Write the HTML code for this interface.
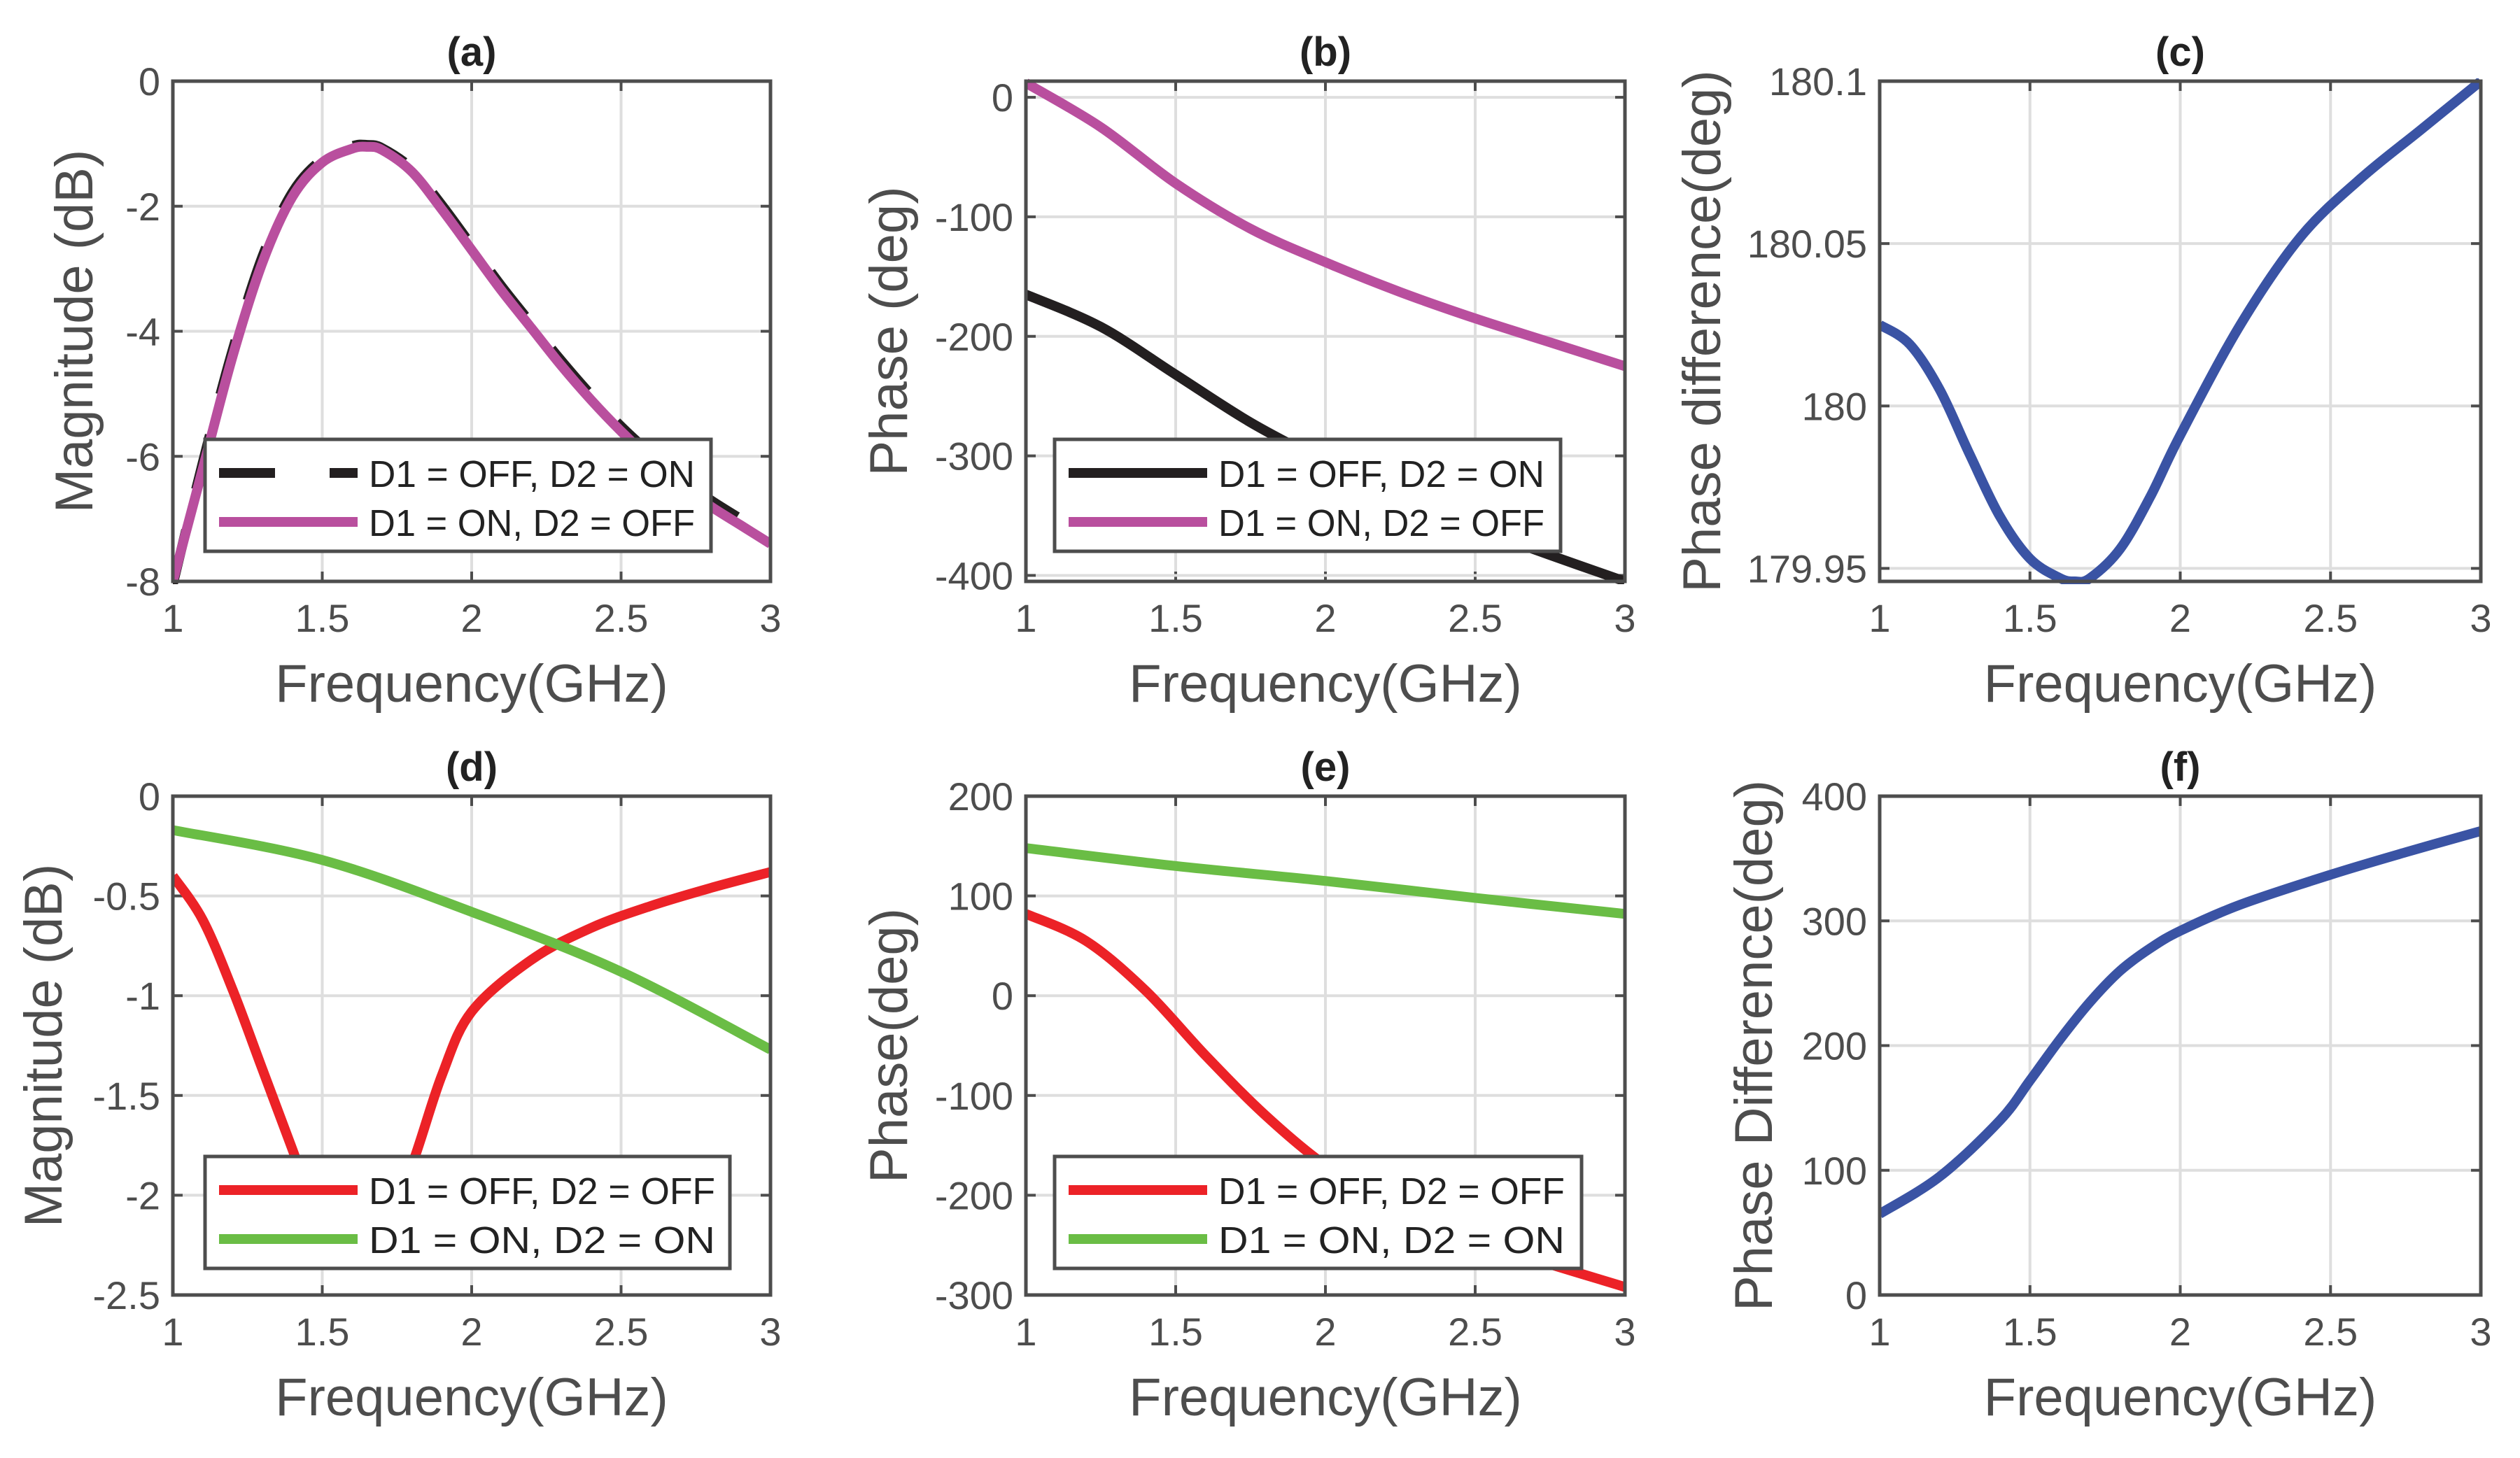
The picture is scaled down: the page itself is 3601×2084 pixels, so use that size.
<!DOCTYPE html>
<html><head><meta charset="utf-8"><style>
html,body{margin:0;padding:0;background:#fff}
svg{display:block}
text{font-family:"Liberation Sans",Arial,sans-serif;fill:#4d4d4d}
</style></head><body>
<svg id="fig" width="3601" height="2084" viewBox="0 0 3601 2084" xmlns="http://www.w3.org/2000/svg"></svg>
<script>
const xTicks=[1,1.5,2,2.5,3];
const xTickLabels=["1","1.5","2","2.5","3"];
// (a)
const aX=[1,1.1,1.2,1.3,1.4,1.5,1.6,1.65,1.7,1.8,1.9,2,2.1,2.2,2.3,2.4,2.5,2.6,2.7,2.8,2.9,3];
const aOnOff=[-8,-6.2,-4.4,-2.9,-1.85,-1.3,-1.08,-1.05,-1.1,-1.45,-2.05,-2.7,-3.35,-3.95,-4.55,-5.1,-5.6,-6.05,-6.45,-6.8,-7.1,-7.4];
const aOffOn=[-8.05,-6.1,-4.3,-2.8,-1.78,-1.25,-1.04,-1.02,-1.07,-1.4,-1.98,-2.63,-3.28,-3.88,-4.47,-5.02,-5.52,-5.96,-6.36,-6.7,-7.0,-7.3];
const aTicks=[0,-2,-4,-6,-8];
// (b)
const bX=[1,1.25,1.5,1.75,2,2.25,2.5,2.75,3];
const bOffOn=[-165,-192,-232,-272,-305,-334,-360,-383,-405];
const bOnOff=[12,-25,-72,-110,-138,-163,-185,-205,-225];
const bTicks=[0,-100,-200,-300,-400];
// (c)
const cX=[1,1.1,1.2,1.3,1.4,1.5,1.6,1.65,1.7,1.8,1.9,2,2.2,2.4,2.6,2.8,3];
const cDiff=[180.025,180.019,180.005,179.985,179.966,179.953,179.947,179.946,179.947,179.956,179.972,179.991,180.025,180.052,180.07,180.085,180.1];
const cTicks=[180.1,180.05,180,179.95];
const cTickLabels=["180.1","180.05","180","179.95"];
// (d)
const dX=[1,1.1,1.2,1.3,1.4,1.45,1.55,1.6,1.7,1.8,1.9,2,2.2,2.4,2.6,2.8,3];
const dOffOff=[-0.4,-0.62,-0.97,-1.37,-1.77,-1.97,-2.25,-2.3,-2.2,-1.85,-1.4,-1.08,-0.82,-0.66,-0.55,-0.46,-0.38];
const dX2=[1,1.5,2,2.5,3];
const dOnOn=[-0.17,-0.32,-0.58,-0.88,-1.27];
const dTicks=[0,-0.5,-1,-1.5,-2,-2.5];
// (e)
const eX=[1,1.2,1.4,1.6,1.8,2,2.2,2.5,3];
const eOffOff=[82,55,5,-60,-120,-170,-205,-245,-292];
const eX2=[1,1.5,2,2.5,3];
const eOnOn=[148,130,115,98,82];
const eTicks=[200,100,0,-100,-200,-300];
// (f)
const fX=[1,1.2,1.4,1.5,1.6,1.7,1.8,1.9,2,2.2,2.5,2.75,3];
const fDiff=[65,95,140,172,205,235,260,278,292,313,337,355,372];
const fTicks=[0,100,200,300,400];

const NS="http://www.w3.org/2000/svg";
const svg=document.getElementById('fig');
function el(tag,attrs,parent){const e=document.createElementNS(NS,tag);for(const k in attrs)e.setAttribute(k,attrs[k]);(parent||svg).appendChild(e);return e;}
function txt(s,attrs,parent){const t=el('text',attrs,parent);t.textContent=s;return t;}
function smooth(pts){let d=`M${pts[0][0]},${pts[0][1]}`;for(let i=0;i<pts.length-1;i++){const p0=pts[Math.max(0,i-1)],p1=pts[i],p2=pts[i+1],p3=pts[Math.min(pts.length-1,i+2)];const c1=[p1[0]+(p2[0]-p0[0])/6,p1[1]+(p2[1]-p0[1])/6],c2=[p2[0]-(p3[0]-p1[0])/6,p2[1]-(p3[1]-p1[1])/6];d+=`C${c1[0]},${c1[1]} ${c2[0]},${c2[1]} ${p2[0]},${p2[1]}`;}return d;}

function panel(o){
  const g=el('g',{});  
  const {x0,x1,y0,y1,ymin,ymax}=o;
  const sx=v=>x0+(v-1)/2*(x1-x0), sy=v=>y1-(v-ymin)/(ymax-ymin)*(y1-y0);
  const clipId='clip'+o.id;
  const cp=el('clipPath',{id:clipId},g); el('rect',{x:x0,y:y0-4,width:x1-x0,height:y1-y0+8},cp);
  xTicks.forEach((t,i)=>{const X=sx(t);
    if(i>0&&i<xTicks.length-1){const l=el('line',{x1:X,x2:X,y1:y0,y2:y1,stroke:'#dedede','stroke-width':4},g);}
    el('line',{x1:X,x2:X,y1:y1,y2:y1-14,stroke:'#4d4d4d','stroke-width':4},g);el('line',{x1:X,x2:X,y1:y0,y2:y0+14,stroke:'#4d4d4d','stroke-width':4},g);
    const tl=txt(xTickLabels[i],{x:X,y:y1+72,'font-size':56,'text-anchor':'middle'},g);});
  o.yt.forEach((t,i)=>{const Y=sy(t);
    if(Y>y0+3&&Y<y1-3){const l=el('line',{x1:x0,x2:x1,y1:Y,y2:Y,stroke:'#dedede','stroke-width':4},g);}
    el('line',{x1:x0,x2:x0+14,y1:Y,y2:Y,stroke:'#4d4d4d','stroke-width':4},g);el('line',{x1:x1,x2:x1-14,y1:Y,y2:Y,stroke:'#4d4d4d','stroke-width':4},g);
    const tl=txt(o.ytl?o.ytl[i]:String(t),{x:x0-18,y:Y+20,'font-size':56,'text-anchor':'end'},g);});
  const cg=el('g',{'clip-path':`url(#${clipId})`},g);
  o.series.forEach(s=>{const pts=s.x.map((v,i)=>[sx(v),sy(s.y[i])]);
    const p=el('path',{d:smooth(pts),fill:'none',stroke:s.c,'stroke-width':14,'stroke-linejoin':'round'},cg);
    if(s.dash)p.setAttribute('stroke-dasharray',s.dash);
    });
  const b=el('rect',{x:x0,y:y0,width:x1-x0,height:y1-y0,fill:'none',stroke:'#4d4d4d','stroke-width':5},g);
  const ti=txt(o.title,{x:(x0+x1)/2,y:y0-22,'font-size':58,'font-weight':'bold','text-anchor':'middle',style:'fill:#222'},g);
  const xl=txt('Frequency(GHz)',{x:(x0+x1)/2,y:y1+172,'font-size':76,'text-anchor':'middle'},g);
  const yl=txt(o.ylabel,{x:0,y:0,'font-size':76,'text-anchor':'middle',transform:`translate(${o.ylx},${(y0+y1)/2}) rotate(-90)`},g);
  if(o.leg){const L=o.leg;const lg=el('g',{},g);
    el('rect',{x:L.x,y:L.y,width:L.w,height:160,fill:'#fff',stroke:'#4d4d4d','stroke-width':5},lg);
    L.items.forEach((it,i)=>{const Y=L.y+48+i*70;
      const ln=el('line',{x1:L.x+20,x2:L.x+218,y1:Y,y2:Y,stroke:it.c,'stroke-width':14},lg);if(it.dash)ln.setAttribute('stroke-dasharray','80 78');
      
      const t=txt(it.t,{x:L.x+234,y:Y+20,'font-size':54,textLength:L.tl,lengthAdjust:'spacingAndGlyphs',style:'fill:#222'},lg);});}
}
const C1=[247,1101],C2=[1466,2322],C3=[2686,3545],R1=[116,831],R2=[1138,1851];
const BLK='#231f20',PNK='#b94f9e',BLU='#3a53a4',RED='#ec2227',GRN='#6abd45';
panel({id:'a',x0:C1[0],x1:C1[1],y0:R1[0],y1:R1[1],ymin:-8,ymax:0,yt:aTicks,title:'(a)',ylabel:'Magnitude (dB)',ylx:132,
  series:[{x:aX,y:aOffOn,c:BLK,dash:'80 60',name:'line-d1off-d2on'},{x:aX,y:aOnOff,c:PNK,name:'line-d1on-d2off'}],
  leg:{x:293,y:628,w:723,tl:466,items:[{t:'D1 = OFF, D2 = ON',c:BLK,dash:1},{t:'D1 = ON, D2 = OFF',c:PNK}]}});
panel({id:'b',x0:C2[0],x1:C2[1],y0:R1[0],y1:R1[1],ymin:-405,ymax:13.5,yt:bTicks,title:'(b)',ylabel:'Phase (deg)',ylx:1296,
  series:[{x:bX,y:bOffOn,c:BLK,name:'line-d1off-d2on'},{x:bX,y:bOnOff,c:PNK,name:'line-d1on-d2off'}],
  leg:{x:1507,y:628,w:723,tl:466,items:[{t:'D1 = OFF, D2 = ON',c:BLK},{t:'D1 = ON, D2 = OFF',c:PNK}]}});
panel({id:'c',x0:C3[0],x1:C3[1],y0:R1[0],y1:R1[1],ymin:179.946,ymax:180.1,yt:cTicks,ytl:cTickLabels,title:'(c)',ylabel:'Phase difference(deg)',ylx:2458,
  series:[{x:cX,y:cDiff,c:BLU,name:'line-phase-difference'}]});
panel({id:'d',x0:C1[0],x1:C1[1],y0:R2[0],y1:R2[1],ymin:-2.5,ymax:0,yt:dTicks,title:'(d)',ylabel:'Magnitude (dB)',ylx:88,
  series:[{x:dX,y:dOffOff,c:RED,name:'line-d1off-d2off'},{x:dX2,y:dOnOn,c:GRN,name:'line-d1on-d2on'}],
  leg:{x:293,y:1653,w:750,tl:495,items:[{t:'D1 = OFF, D2 = OFF',c:RED},{t:'D1 = ON, D2 = ON',c:GRN}]}});
panel({id:'e',x0:C2[0],x1:C2[1],y0:R2[0],y1:R2[1],ymin:-300,ymax:200,yt:eTicks,title:'(e)',ylabel:'Phase(deg)',ylx:1296,
  series:[{x:eX,y:eOffOff,c:RED,name:'line-d1off-d2off'},{x:eX2,y:eOnOn,c:GRN,name:'line-d1on-d2on'}],
  leg:{x:1507,y:1653,w:753,tl:495,items:[{t:'D1 = OFF, D2 = OFF',c:RED},{t:'D1 = ON, D2 = ON',c:GRN}]}});
panel({id:'f',x0:C3[0],x1:C3[1],y0:R2[0],y1:R2[1],ymin:0,ymax:400,yt:fTicks,title:'(f)',ylabel:'Phase Difference(deg)',ylx:2532,
  series:[{x:fX,y:fDiff,c:BLU,name:'line-phase-difference'}]});
</script>
</body></html>
